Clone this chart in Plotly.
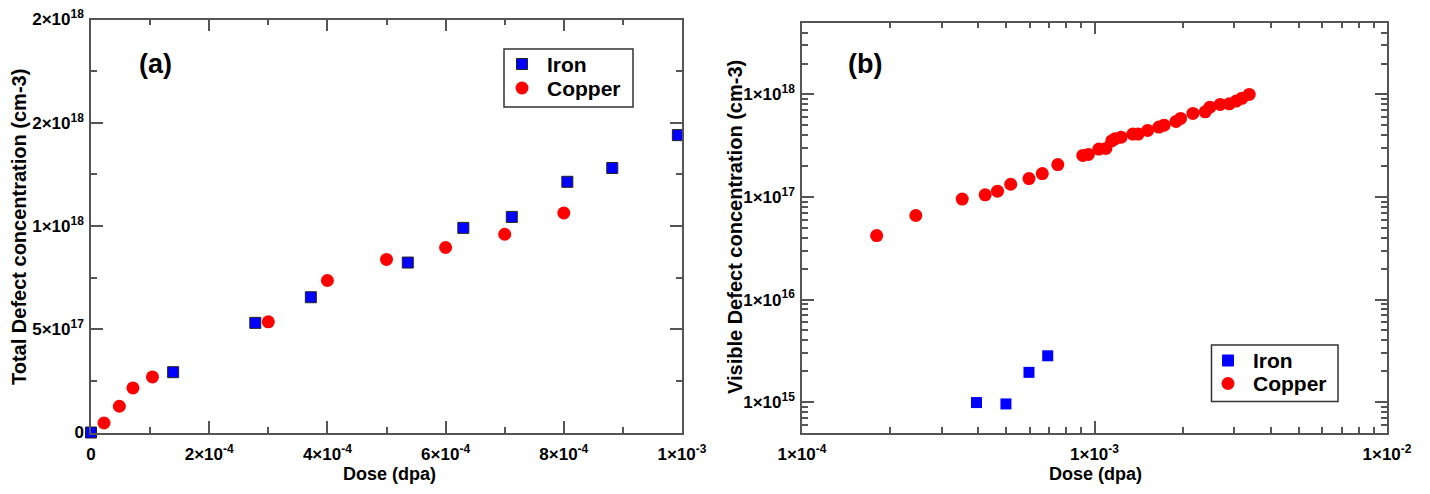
import plotly.graph_objects as go

# ---- Panel (a): total defect concentration vs dose (linear axes) ----
iron_a_dose = [0.0, 1.39e-4, 2.78e-4, 3.72e-4, 5.36e-4, 6.30e-4, 7.12e-4, 8.06e-4, 8.82e-4, 9.93e-4]
iron_a_conc = [0.0, 0.292e18, 0.531e18, 0.655e18, 0.823e18, 0.991e18, 1.044e18, 1.214e18, 1.281e18, 1.44e18]

copper_a_dose = [2.2e-5, 4.8e-5, 7.1e-5, 1.04e-4, 3.0e-4, 4.0e-4, 5.0e-4, 6.0e-4, 7.0e-4, 8.0e-4]
copper_a_conc = [0.046e18, 0.127e18, 0.216e18, 0.269e18, 0.536e18, 0.736e18, 0.838e18, 0.896e18, 0.96e18, 1.063e18]

xa_tickvals = [0, 2e-4, 4e-4, 6e-4, 8e-4, 1e-3]
xa_ticklabels = [("0", None), ("2", "-4"), ("4", "-4"), ("6", "-4"), ("8", "-4"), ("1", "-3")]
xa_minor = [1e-4, 3e-4, 5e-4, 7e-4, 9e-4]
ya_tickvals = [0, 5e17, 1e18, 1.5e18, 2e18]
ya_ticklabels = [("0", None), ("5", "17"), ("1", "18"), ("2", "18"), ("2", "18")]
ya_minor = [2.5e17, 7.5e17, 1.25e18, 1.75e18]

# ---- Panel (b): visible defect concentration vs dose (log-log) ----
iron_b_dose = [3.95e-4, 4.98e-4, 5.97e-4, 6.92e-4]
iron_b_conc = [9.9e14, 9.6e14, 1.95e15, 2.83e15]

copper_b_dose = [1.80e-4, 2.45e-4, 3.53e-4, 4.23e-4, 4.66e-4, 5.17e-4, 5.97e-4, 6.63e-4, 7.49e-4,
                 9.12e-4, 9.53e-4, 1.035e-3, 1.094e-3, 1.145e-3, 1.175e-3, 1.233e-3, 1.352e-3,
                 1.41e-3, 1.52e-3, 1.66e-3, 1.73e-3, 1.90e-3, 1.97e-3, 2.17e-3, 2.39e-3,
                 2.48e-3, 2.69e-3, 2.89e-3, 3.05e-3, 3.19e-3, 3.38e-3]
copper_b_conc = [4.2e16, 6.6e16, 9.55e16, 1.05e17, 1.14e17, 1.33e17, 1.51e17, 1.69e17, 2.07e17,
                 2.54e17, 2.60e17, 2.93e17, 2.97e17, 3.52e17, 3.69e17, 3.83e17, 4.10e17,
                 4.10e17, 4.45e17, 4.80e17, 5.01e17, 5.45e17, 5.83e17, 6.52e17, 6.76e17,
                 7.50e17, 7.98e17, 8.10e17, 8.60e17, 9.15e17, 1.0e18]

xb_tickvals = [1e-4, 1e-3, 1e-2]
xb_ticklabels = [("1", "-4"), ("1", "-3"), ("1", "-2")]
xb_minor = [m * d for d in (1e-4, 1e-3) for m in range(2, 10)]
yb_tickvals = [1e15, 1e16, 1e17, 1e18]
yb_ticklabels = [("1", "15"), ("1", "16"), ("1", "17"), ("1", "18")]
yb_minor = ([m * 1e14 for m in range(6, 10)]
            + [m * d for d in (1e15, 1e16, 1e17) for m in range(2, 10)]
            + [m * 1e18 for m in range(2, 5)])

series_names = ["Iron", "Copper"]

W, H = 1430, 494
FONT = "Liberation Sans, Arial, Helvetica, sans-serif"
AXIS_COLOR = "#555555"
BLUE = "#0000ff"
RED = "#ff0000"
SQUARE_SIZE = 11
CIRCLE_SIZE = 13
SUP_SIZE = 12


def sci_label(mantissa, exponent):
    """Tick text in the form m×10^e (plain mantissa when there is no exponent)."""
    if exponent is None:
        return mantissa
    return f"{mantissa}×10<sup><span style='font-size:{SUP_SIZE}px'>{exponent}</span></sup>"


def px_x(p):
    return p / W


def px_y(p):
    return 1 - p / H


fig = go.Figure()

# panel (a)
fig.add_trace(go.Scatter(
    x=iron_a_dose, y=iron_a_conc, mode="markers", name=series_names[0],
    marker=dict(symbol="square", size=SQUARE_SIZE, color=BLUE, line=dict(color="#222222", width=1)),
    xaxis="x", yaxis="y", cliponaxis=False))
fig.add_trace(go.Scatter(
    x=copper_a_dose, y=copper_a_conc, mode="markers", name=series_names[1],
    marker=dict(symbol="circle", size=CIRCLE_SIZE, color=RED, line=dict(width=0)),
    xaxis="x", yaxis="y", cliponaxis=False))

# panel (b)
fig.add_trace(go.Scatter(
    x=iron_b_dose, y=iron_b_conc, mode="markers", name=series_names[0],
    marker=dict(symbol="square", size=SQUARE_SIZE, color=BLUE, line=dict(width=0)),
    xaxis="x2", yaxis="y2", cliponaxis=False))
fig.add_trace(go.Scatter(
    x=copper_b_dose, y=copper_b_conc, mode="markers", name=series_names[1],
    marker=dict(symbol="circle", size=CIRCLE_SIZE, color=RED, line=dict(width=0)),
    xaxis="x2", yaxis="y2", cliponaxis=False))

tick_font = dict(family=FONT, size=17, color="black", weight="bold")


def minor_style(vals):
    return dict(tickmode="array", tickvals=vals, ticks="inside", ticklen=6,
                tickwidth=1.5, tickcolor=AXIS_COLOR)


def axis_style(**kw):
    base = dict(
        showline=True, linecolor=AXIS_COLOR, linewidth=1.5, mirror="allticks",
        ticks="inside", ticklen=12, tickwidth=1.5, tickcolor=AXIS_COLOR,
        showgrid=False, zeroline=False, tickfont=tick_font, ticklabelstandoff=2,
        tickmode="array", automargin=False,
    )
    base.update(kw)
    return base


fig.update_layout(
    width=W, height=H,
    margin=dict(l=0, r=0, t=0, b=0),
    paper_bgcolor="white", plot_bgcolor="white",
    font=dict(family=FONT, color="black"),
    showlegend=False,
    xaxis=axis_style(
        domain=[px_x(91), px_x(682)], range=[0, 1e-3], anchor="y", ticklabelstandoff=5,
        tickvals=xa_tickvals, ticktext=[sci_label(*t) for t in xa_ticklabels],
        minor=minor_style(xa_minor),
    ),
    yaxis=axis_style(
        domain=[px_y(432.5), px_y(19.5)], range=[0, 2e18], anchor="x",
        tickvals=ya_tickvals, ticktext=[sci_label(*t) for t in ya_ticklabels],
        minor=minor_style(ya_minor),
    ),
    xaxis2=axis_style(
        type="log", domain=[px_x(802), px_x(1387)], range=[-4, -2], anchor="y2", ticklabelstandoff=5,
        tickvals=xb_tickvals, ticktext=[sci_label(*t) for t in xb_ticklabels],
        minor=minor_style(xb_minor),
    ),
    yaxis2=axis_style(
        type="log", domain=[px_y(433), px_y(22.7)], range=[14.699, 18.699], anchor="x2",
        tickvals=yb_tickvals, ticktext=[sci_label(*t) for t in yb_ticklabels],
        minor=minor_style(yb_minor),
    ),
)

title_font = dict(family=FONT, size=18, color="black", weight="bold")
vtitle_font = dict(family=FONT, size=20, color="black", weight="bold")
panel_font = dict(family=FONT, size=27, color="black", weight="bold")
legend_font = dict(family=FONT, size=21, color="black", weight="bold")

annotations = [
    # panel labels
    dict(text="(a)", x=px_x(155), y=px_y(64), font=panel_font),
    dict(text="(b)", x=px_x(865), y=px_y(64), font=panel_font),
    # axis titles
    dict(text="Dose (dpa)", x=px_x(390), y=px_y(474), font=title_font),
    dict(text="Dose (dpa)", x=px_x(1095), y=px_y(474), font=title_font),
    dict(text="Total Defect concentration (cm-3)", x=px_x(19), y=px_y(227),
         textangle=-90, font=vtitle_font),
    dict(text="Visible Defect concentration (cm-3)", x=px_x(735), y=px_y(227),
         textangle=-90, font=vtitle_font),
]

shapes = []


def add_legend(box, sym_x, text_x, rows, square_outline):
    x0, y0, x1, y1 = box
    shapes.append(dict(type="rect", xref="paper", yref="paper",
                       x0=px_x(x0), x1=px_x(x1), y0=px_y(y1), y1=px_y(y0),
                       line=dict(color="#333333", width=1.5), fillcolor="white", layer="above"))
    # square swatch
    s = SQUARE_SIZE / 2
    shapes.append(dict(type="rect", xref="paper", yref="paper",
                       x0=px_x(sym_x - s), x1=px_x(sym_x + s),
                       y0=px_y(rows[0] + s), y1=px_y(rows[0] - s),
                       fillcolor=BLUE, layer="above",
                       line=dict(color="#222222" if square_outline else BLUE, width=1)))
    # circle swatch
    c = CIRCLE_SIZE / 2
    shapes.append(dict(type="circle", xref="paper", yref="paper",
                       x0=px_x(sym_x - c), x1=px_x(sym_x + c),
                       y0=px_y(rows[1] + c), y1=px_y(rows[1] - c),
                       fillcolor=RED, line=dict(width=0), layer="above"))
    for name, ry in zip(series_names, rows):
        annotations.append(dict(text=name, x=px_x(text_x), y=px_y(ry), xanchor="left",
                                font=legend_font))


add_legend((504, 49, 633, 107), 522, 545, (64, 88), True)
add_legend((1211.5, 345, 1338, 401.5), 1228, 1251, (360.5, 383.5), False)

for a in annotations:
    a.setdefault("xanchor", "center")
    a.update(xref="paper", yref="paper", showarrow=False, yanchor="middle")

fig.update_layout(annotations=annotations, shapes=shapes)

fig.write_html("out.html")
